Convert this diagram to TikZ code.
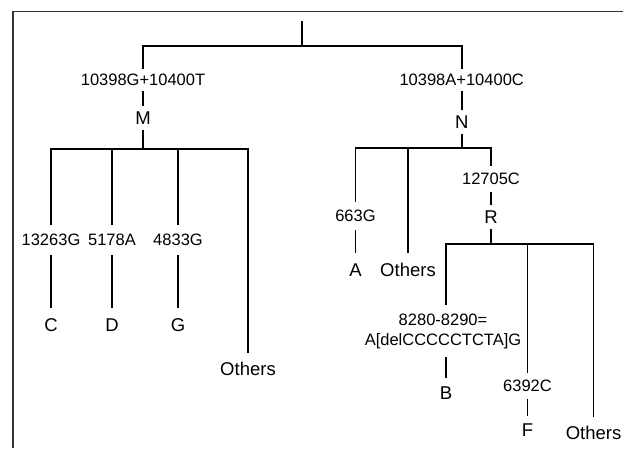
\documentclass[tikz,border=0pt]{standalone}
\usepackage{fontspec}
\setmainfont{Liberation Sans}
\begin{document}
\begin{tikzpicture}[x=1pt,y=-1pt,
  lab/.style={font=\fontsize{16.5}{20}\selectfont, inner xsep=0pt, inner ysep=5pt},
  leaf/.style={font=\fontsize{18.5}{22}\selectfont, inner xsep=0pt, inner ysep=8pt},
  edge/.style={line width=1.9pt, black},
  frame/.style={line width=1.7pt, black!80}]
\useasboundingbox (0,0) rectangle (623,448);
\fill[white] (0,0) rectangle (623,448);
\draw[frame] (12.8,448) -- (12.8,11.5) -- (623,11.5);

% root
\coordinate (top) at (302,21);
\coordinate (j0) at (302,46);
\node[lab] (mutM) at (143,80) {10398G+10400T};
\node[leaf,inner ysep=5pt] (M) at (143,118) {M};
\node[lab] (mutN) at (461.7,80) {10398A+10400C};
\node[leaf,inner ysep=5pt] (N) at (461.7,122) {N};
\draw[edge] (top) -- (j0);
\draw[edge] (mutM.north) |- (j0) -| (mutN.north);
\draw[edge] (mutM) -- (M);
\draw[edge] (mutN) -- (N);

% M branch
\coordinate (jM) at (143,149);
\node[lab,inner ysep=9pt] (m1) at (51,240) {13263G};
\node[lab,inner ysep=9pt] (m2) at (112,240) {5178A};
\node[lab,inner ysep=9pt] (m3) at (178,240) {4833G};
\node[leaf,inner ysep=10pt] (C) at (51,325) {C};
\node[leaf,inner ysep=10pt] (D) at (112,325) {D};
\node[leaf,inner ysep=10pt] (G) at (178,325) {G};
\node[leaf,inner ysep=9pt] (othM) at (248,369) {Others};
\draw[edge] (M) -- (jM);
\draw[edge] (m1.north) |- (jM) -| (othM.north);
\draw[edge] (m2.north) -- (m2.north |- jM);
\draw[edge] (m3.north) -- (m3.north |- jM);
\draw[edge] (m1) -- (C);
\draw[edge] (m2) -- (D);
\draw[edge] (m3) -- (G);

% N branch
\coordinate (jN) at (461.7,148);
\node[lab,inner ysep=8pt] (n1) at (355.5,216) {663G};
\node[leaf,inner ysep=10pt] (A) at (355.5,270) {A};
\node[leaf,inner ysep=10pt] (othN) at (408,270) {Others};
\node[lab,inner ysep=6.5pt] (mutR) at (491,179) {12705C};
\node[leaf,inner ysep=5.4pt] (R) at (491,217) {R};
\draw[edge] (N) -- (jN);
\draw[edge] (n1.north) |- (jN) -| (mutR.north);
\draw[edge] (othN.north) -- (othN.north |- jN);
\draw[edge] (n1) -- (A);
\draw[edge] (mutR) -- (R);

% R branch
\coordinate (jR) at (491,244);
\node[lab,align=center,inner ysep=8pt] (r1) at (443,331) {8280-8290=\\A[delCCCCCTCTA]G};
\node[leaf,inner ysep=8.4pt] (B) at (446,393) {B};
\node[lab,inner ysep=6.5pt] (r2) at (527.5,386) {6392C};
\node[leaf,inner ysep=7.4pt] (F) at (527.5,430) {F};
\node[leaf,inner ysep=9.4pt] (othR) at (593.5,433) {Others};
\draw[edge] (R) -- (jR);
\draw[edge] (B.north |- r1.north) |- (jR) -| (othR.north);
\draw[edge] (r2.north) -- (r2.north |- jR);
\draw[edge] (B.north) -- (B.north |- r1.south);
\draw[edge] (r2) -- (F);
\end{tikzpicture}
\end{document}
